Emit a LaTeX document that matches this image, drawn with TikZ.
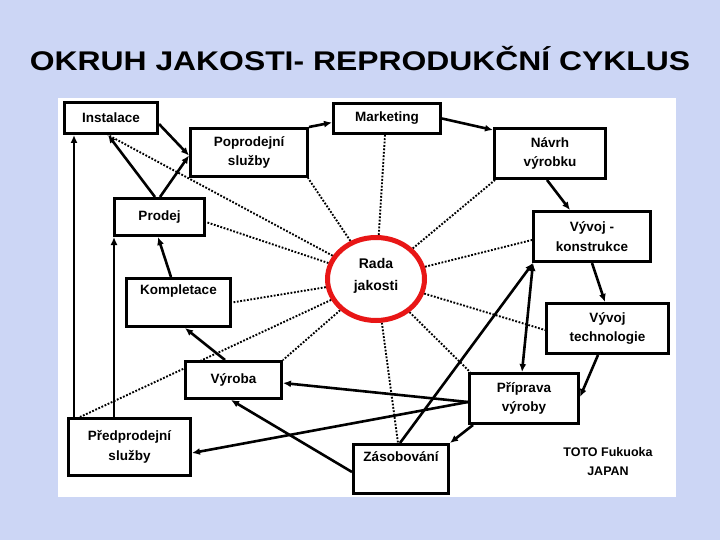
\documentclass[tikz,border=0pt]{standalone}
\usepackage{fontspec}
\setmainfont{Liberation Sans}
\usetikzlibrary{arrows.meta,shapes.geometric,calc}
\definecolor{bgblue}{RGB}{204,214,245}
\definecolor{radared}{RGB}{232,22,22}
\pgfdeclarelayer{bg}
\pgfdeclarelayer{lines}
\pgfsetlayers{bg,lines,main}
\begin{document}
\begin{tikzpicture}[x=1pt,y=-1pt,
  box/.style={draw=black, line width=2.8pt, fill=white, align=center,
    font=\bfseries\fontsize{13.5}{19.5}\selectfont, inner sep=0pt},
  flow/.style={line width=2.6pt, -{Latex[length=8pt,width=7pt]}},
  dualflow/.style={line width=2.6pt, {Latex[length=8pt,width=7pt]}-{Latex[length=8pt,width=7pt]}},
  dotline/.style={line width=1.9pt, dash pattern=on 1.8pt off 1.6pt},
]
\begin{pgfonlayer}{bg}
\fill[bgblue] (0,0) rectangle (720,540);
\fill[white] (58,98) rectangle (676,497);
\end{pgfonlayer}
\useasboundingbox (0,0) rectangle (720,540);

\node (title) at (360,59) {\scalebox{1.18}[1]{\fontsize{27}{30}\selectfont\bfseries OKRUH JAKOSTI- REPRODUKČNÍ CYKLUS}};

\node[box, minimum width=93.2pt, minimum height=31.2pt] (inst) at (111,118) {Instalace};
\node[box, minimum width=107.2pt, minimum height=30.2pt] (mark) at (387,118.5) {Marketing};
\node[box, minimum width=117.2pt, minimum height=48.2pt] (popro) at (249,152.5) {Poprodejní\\služby};
\node[box, minimum width=111.2pt, minimum height=50.2pt] (navrh) at (550,153.5) {Návrh\\výrobku};
\node[box, minimum width=117.2pt, minimum height=50.2pt] (vyvk) at (592,236.5) {Vývoj -\\konstrukce};
\node[box, minimum width=90.2pt, minimum height=37.2pt] (prodej) at (159.5,217) {Prodej};
\node[box, minimum width=104.2pt, minimum height=48.2pt] (komp) at (178.5,302.5) {Kompletace\\\strut};
\node[box, minimum width=122.2pt, minimum height=50.2pt] (vyvt) at (607.5,328.5) {Vývoj\\technologie};
\node[box, minimum width=96.2pt, minimum height=37.2pt] (vyroba) at (233.5,380) {Výroba};
\node[box, minimum width=109.2pt, minimum height=50.2pt] (prip) at (524,398.5) {Příprava\\výroby};
\node[box, minimum width=122.2pt, minimum height=57.2pt] (predpr) at (129.5,447) {Předprodejní\\služby};
\node[box, minimum width=95.2pt, minimum height=49.2pt] (zas) at (401,469) {Zásobování\\\strut};
\node[ellipse, draw=radared, line width=5pt, fill=white, minimum width=97pt, minimum height=83pt,
  inner sep=0pt, align=center, font=\bfseries\fontsize{14}{22}\selectfont] (rada) at (376,279) {Rada\\jakosti\\[-12pt]};
\node[align=center, font=\bfseries\fontsize{12.5}{19}\selectfont] (credit) at (608,462) {TOTO Fukuoka\\JAPAN};

\begin{pgfonlayer}{lines}
% solid flow arrows
\draw[flow] ($(inst.east)+(0,6)$) -- ($(popro.west)+(0,3)$);
\draw[flow] (popro.north east) -- ($(mark.west)+(0,4)$);
\draw[flow] (mark.east) -- ($(navrh.north west)+(0,3)$);
\draw[flow] ($(navrh.south)+(-3,0)$) -- ($(vyvk.north)+(-22,0)$);
\draw[flow] (vyvk.south) -- ($(vyvt.north)+(-2.5,0)$);
\draw[flow] ($(vyvt.south)+(-9.5,0)$) -- ($(prip.east)+(0,-1.5)$);
\draw[dualflow] ($(prip.north)+(-2,0)$) -- ($(vyvk.south west)+(1,0)$);
\draw[flow] ($(prip.west)+(0,3.5)$) -- ($(vyroba.east)+(0,3)$);
\draw[flow] ($(prip.west)+(0,3.5)$) -- ($(predpr.east)+(0,6)$);
\draw[flow] ($(prip.south west)+(5,0)$) -- (zas.north east);
\draw[flow] ($(zas.north)+(-1,0)$) -- ($(vyvk.south west)+(1,0)$);
\draw[flow] ($(zas.west)+(0,3)$) -- ($(vyroba.south)+(-2.5,0)$);
\draw[flow] ($(vyroba.north)+(-8.5,0)$) -- ($(komp.south)+(6.5,0)$);
\draw[flow] ($(komp.north)+(-7.5,0)$) -- ($(prodej.south)+(-1.5,0)$);
\draw[flow] ($(predpr.north west)+(47,0)$) -- ($(prodej.south west)+(1,0)$);
\draw[flow] ($(predpr.north west)+(7,0)$) -- ($(inst.south west)+(11,0)$);
\draw[flow] ($(prodej.north)+(-4.5,0)$) -- ($(inst.south)+(-3,0)$);
\draw[flow] ($(prodej.north)+(0.5,0)$) -- ($(popro.west)+(0,3)$);
% dotted links to Rada jakosti
\draw[dotline] (rada) -- ($(inst.south)+(-3,0)$);
\draw[dotline] (rada) -- ($(popro.south east)+(-1,0)$);
\draw[dotline] (rada) -- ($(mark.south)+(-2,0)$);
\draw[dotline] (rada) -- ($(navrh.south west)+(2,0)$);
\draw[dotline] (rada) -- ($(vyvk.west)+(0,3.5)$);
\draw[dotline] (rada) -- ($(vyvt.west)+(0,1.5)$);
\draw[dotline] (rada) -- ($(prip.north west)+(2,0)$);
\draw[dotline] (rada) -- ($(zas.north)+(-3,0)$);
\draw[dotline] (rada) -- (vyroba.north east);
\draw[dotline] (rada) -- ($(predpr.north west)+(13,0)$);
\draw[dotline] (rada) -- (komp.east);
\draw[dotline] (rada) -- ($(prodej.east)+(0,5)$);
\end{pgfonlayer}
\end{tikzpicture}
\end{document}
